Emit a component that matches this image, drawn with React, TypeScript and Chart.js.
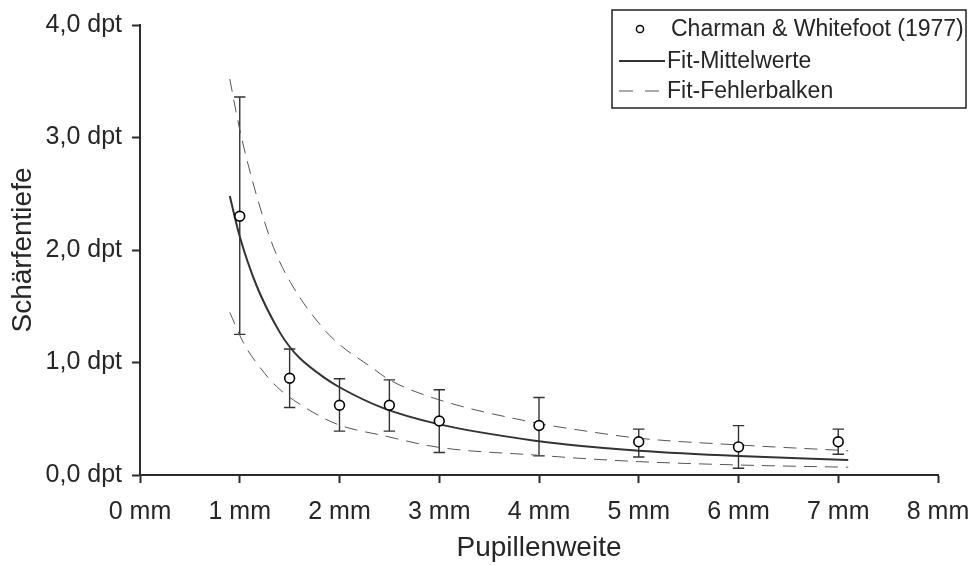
import React, { useEffect, useRef } from "react";
import { Chart, registerables } from "chart.js";

Chart.register(...registerables);

// Measured data (Charman & Whitefoot 1977)
const pupilMm = [1, 1.5, 2, 2.5, 3, 4, 5, 6, 7];
const depthMean = [2.3, 0.86, 0.62, 0.62, 0.48, 0.44, 0.295, 0.25, 0.295];
const depthLow = [1.25, 0.6, 0.39, 0.39, 0.2, 0.17, 0.16, 0.06, 0.185];
const depthHigh = [3.36, 1.12, 0.856, 0.846, 0.758, 0.689, 0.408, 0.439, 0.408];

// Fit of mean values
const fitMeanX = [0.9, 1.0, 1.17, 1.4, 1.5, 1.6, 1.84, 2.0, 2.44, 3.0, 4.0, 4.4, 5.0, 6.0, 7.1];
const fitMeanY = [2.48, 2.12, 1.68, 1.27, 1.14, 1.04, 0.87, 0.78, 0.594, 0.45, 0.3, 0.26, 0.216, 0.169, 0.134];

// Fit of upper error bars
const fitUpperX = [0.9, 1.0, 1.17, 1.34, 1.51, 1.82, 2.0, 2.31, 2.5, 3.0, 4.0, 4.4, 5.0, 6.0, 7.1];
const fitUpperY = [3.52, 3.07, 2.48, 2.02, 1.71, 1.32, 1.16, 0.964, 0.846, 0.668, 0.458, 0.4, 0.327, 0.267, 0.216];

// Fit of lower error bars
const fitLowerX = [0.9, 1.04, 1.17, 1.37, 1.64, 1.98, 2.44, 3.0, 4.0, 4.4, 5.0, 6.0, 7.1];
const fitLowerY = [1.445, 1.17, 0.995, 0.786, 0.608, 0.45, 0.35, 0.245, 0.175, 0.149, 0.119, 0.089, 0.069];

const xTicks = [0, 1, 2, 3, 4, 5, 6, 7, 8];
const yTicks = [0, 1, 2, 3, 4];

const legendLabels = ["Charman & Whitefoot (1977)", "Fit-Mittelwerte", "Fit-Fehlerbalken"];
const xTitle = "Pupillenweite";
const yTitle = "Schärfentiefe";

const FONT = "'Liberation Sans', Arial, Helvetica, sans-serif";
const TEXT = "#262626";
const AXIS = "#2b2b2b";

const toPts = (xs: number[], ys: number[]) => xs.map((x, i) => ({ x, y: ys[i] }));

const errorBarPlugin = {
  id: "errorBars",
  beforeDatasetsDraw(chart: any) {
    const { ctx, scales } = chart;
    const xs = scales.x;
    const ys = scales.y;
    ctx.save();
    ctx.strokeStyle = "#333";
    ctx.lineWidth = 1.4;
    const cap = 5.7;
    pupilMm.forEach((p, i) => {
      const x = xs.getPixelForValue(p);
      const yl = ys.getPixelForValue(depthLow[i]);
      const yh = ys.getPixelForValue(depthHigh[i]);
      ctx.beginPath();
      ctx.moveTo(x, yl);
      ctx.lineTo(x, yh);
      ctx.moveTo(x - cap, yl);
      ctx.lineTo(x + cap, yl);
      ctx.moveTo(x - cap, yh);
      ctx.lineTo(x + cap, yh);
      ctx.stroke();
    });
    ctx.restore();
  },
};

const boxLegendPlugin = {
  id: "boxLegend",
  afterDraw(chart: any) {
    const { ctx } = chart;
    ctx.save();
    const left = 612;
    const top = 10;
    const w = 354;
    const h = 98;
    ctx.fillStyle = "#fff";
    ctx.fillRect(left, top, w, h);
    ctx.strokeStyle = "#222";
    ctx.lineWidth = 1.5;
    ctx.strokeRect(left, top, w, h);

    const rows = [29, 61, 91];
    ctx.font = `23px ${FONT}`;
    ctx.fillStyle = TEXT;
    ctx.textBaseline = "middle";
    ctx.textAlign = "left";

    // row 1: marker
    ctx.beginPath();
    ctx.arc(640, rows[0], 3.6, 0, Math.PI * 2);
    ctx.fillStyle = "#fff";
    ctx.fill();
    ctx.strokeStyle = "#000";
    ctx.lineWidth = 1.5;
    ctx.stroke();
    ctx.fillStyle = TEXT;
    ctx.fillText(legendLabels[0], 671, rows[0] + 1);

    // row 2: solid line
    ctx.beginPath();
    ctx.strokeStyle = "#333";
    ctx.lineWidth = 2;
    ctx.moveTo(619, rows[1]);
    ctx.lineTo(665, rows[1]);
    ctx.stroke();
    ctx.fillText(legendLabels[1], 667, rows[1] + 1);

    // row 3: dashed line
    ctx.beginPath();
    ctx.strokeStyle = "#555";
    ctx.lineWidth = 1;
    ctx.setLineDash([14, 12]);
    ctx.moveTo(619, rows[2]);
    ctx.lineTo(665, rows[2]);
    ctx.stroke();
    ctx.setLineDash([]);
    ctx.fillText(legendLabels[2], 667, rows[2] + 1);
    ctx.restore();
  },
};

export default function App() {
  const ref = useRef<HTMLCanvasElement | null>(null);

  useEffect(() => {
    if (!ref.current) return;
    const chart = new Chart(ref.current, {
      type: "scatter",
      data: {
        datasets: [
          {
            label: legendLabels[0],
            data: toPts(pupilMm, depthMean),
            showLine: false,
            pointRadius: 4.9,
            pointBackgroundColor: "#fff",
            pointBorderColor: "#000",
            pointBorderWidth: 1.6,
          },
          {
            label: legendLabels[1],
            data: toPts(fitMeanX, fitMeanY),
            showLine: true,
            pointRadius: 0,
            borderColor: "#333",
            borderWidth: 2,
            cubicInterpolationMode: "monotone",
          },
          {
            label: legendLabels[2],
            data: toPts(fitUpperX, fitUpperY),
            showLine: true,
            pointRadius: 0,
            borderColor: "#555",
            borderWidth: 1,
            borderDash: [13, 8],
            cubicInterpolationMode: "monotone",
          },
          {
            label: legendLabels[2] + " (unten)",
            data: toPts(fitLowerX, fitLowerY),
            showLine: true,
            pointRadius: 0,
            borderColor: "#555",
            borderWidth: 1,
            borderDash: [13, 8],
            cubicInterpolationMode: "monotone",
          },
        ],
      },
      options: {
        responsive: false,
        animation: false,
        layout: { padding: { top: 25, right: 35, left: 0, bottom: 0 } },
        plugins: {
          legend: { display: false },
          tooltip: { enabled: false },
        },
        scales: {
          x: {
            type: "linear",
            min: 0,
            max: 8,
            afterFit: (s: any) => {
              s.height = 90;
              s.paddingLeft = 0;
              s.paddingRight = 0;
            },
            afterBuildTicks: (s: any) => {
              s.ticks = xTicks.map((v) => ({ value: v }));
            },
            ticks: {
              callback: (v: any) => `${v} mm`,
              font: { size: 25, family: FONT },
              color: TEXT,
              padding: 14,
              maxRotation: 0,
            },
            grid: {
              drawOnChartArea: false,
              drawTicks: true,
              tickLength: 8,
              tickColor: AXIS,
              tickWidth: 2,
            },
            border: { display: true, color: AXIS, width: 2 },
            title: {
              display: true,
              text: xTitle,
              font: { size: 28, family: FONT },
              color: TEXT,
              padding: { top: 0, bottom: 0 },
            },
          },
          y: {
            type: "linear",
            min: 0,
            max: 4,
            afterFit: (s: any) => {
              s.width = 140;
              s.paddingTop = 0;
              s.paddingBottom = 0;
            },
            afterBuildTicks: (s: any) => {
              s.ticks = yTicks.map((v) => ({ value: v }));
            },
            ticks: {
              callback: (v: any) => `${Number(v).toFixed(1).replace(".", ",")} dpt`,
              font: { size: 25, family: FONT },
              color: TEXT,
              padding: 10,
            },
            grid: {
              drawOnChartArea: false,
              drawTicks: true,
              tickLength: 8,
              tickColor: AXIS,
              tickWidth: 2,
            },
            border: { display: true, color: AXIS, width: 2 },
            title: {
              display: true,
              text: yTitle,
              font: { size: 28, family: FONT },
              color: TEXT,
              padding: { top: 6, bottom: 0 },
            },
          },
        },
      },
      plugins: [errorBarPlugin, boxLegendPlugin],
    });
    return () => chart.destroy();
  }, []);

  return (
    <div style={{ position: "absolute", left: 0, top: 0, width: 973, height: 565, background: "#fff" }}>
      <canvas ref={ref} width={973} height={565} style={{ display: "block" }} />
    </div>
  );
}
